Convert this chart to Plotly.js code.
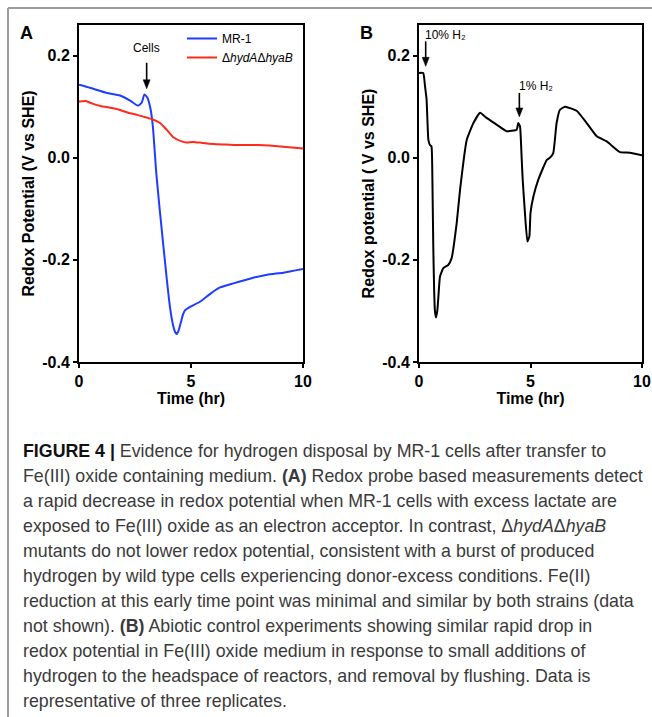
<!DOCTYPE html>
<html><head><meta charset="utf-8">
<script src="https://cdn.plot.ly/plotly-3.0.1.min.js"></script>
<style>html,body{margin:0;padding:0;background:#fff;} #chart{width:652px;height:717px;}</style>
</head><body><div id="chart"></div>
<script>
// ---- Panel A: MR-1 (blue) ----
const timeMR1 = [0, 0.49, 1.24, 1.83, 2.28, 2.63, 2.8, 2.92, 3.05, 3.2, 3.3, 3.45, 3.6, 3.77, 3.9, 4.06, 4.2, 4.3, 4.37, 4.45, 4.55, 4.65, 4.75, 5.0, 5.4, 5.9, 6.3, 6.89, 7.78, 8.4, 9.12, 10];
const potMR1 = [0.143, 0.137, 0.127, 0.122, 0.112, 0.102, 0.108, 0.124, 0.118, 0.094, 0.06, -0.03, -0.1, -0.174, -0.23, -0.292, -0.328, -0.342, -0.345, -0.338, -0.322, -0.306, -0.298, -0.291, -0.282, -0.265, -0.254, -0.246, -0.235, -0.229, -0.225, -0.218];
// ---- Panel A: ΔhydAΔhyaB (red) ----
const timeMutant = [0, 0.3, 0.6, 1.0, 1.4, 1.8, 2.2, 2.6, 3.0, 3.3, 3.62, 3.91, 4.21, 4.58, 4.8, 5.1, 5.5, 6.0, 6.5, 7.0, 7.5, 8.0, 8.5, 9.0, 9.5, 10];
const potMutant = [0.110, 0.111, 0.106, 0.101, 0.098, 0.094, 0.088, 0.084, 0.079, 0.075, 0.068, 0.055, 0.040, 0.032, 0.030, 0.031, 0.029, 0.027, 0.026, 0.025, 0.025, 0.025, 0.024, 0.022, 0.020, 0.018];
// ---- Panel B: abiotic control (black) ----
const timeAbiotic = [0, 0.19, 0.27, 0.34, 0.42, 0.49, 0.56, 0.6, 0.64, 0.68, 0.71, 0.76, 0.82, 0.87, 0.94, 1.09, 1.31, 1.46, 1.69, 1.84, 2.14, 2.44, 2.74, 3.03, 3.48, 3.93, 4.38, 4.45, 4.53, 4.6, 4.65, 4.75, 4.86, 4.95, 5.0, 5.13, 5.35, 5.73, 5.87, 6.02, 6.17, 6.32, 6.55, 7.07, 7.52, 7.97, 8.42, 9.01, 9.46, 10];
const potAbiotic = [0.166, 0.166, 0.14, 0.114, 0.035, 0.025, 0.022, -0.04, -0.174, -0.26, -0.298, -0.313, -0.300, -0.272, -0.233, -0.216, -0.21, -0.197, -0.128, -0.063, 0.035, 0.068, 0.088, 0.078, 0.065, 0.052, 0.055, 0.068, 0.061, 0.003, -0.043, -0.108, -0.164, -0.154, -0.108, -0.076, -0.043, -0.004, 0.0, 0.009, 0.068, 0.094, 0.10, 0.092, 0.068, 0.042, 0.032, 0.011, 0.010, 0.005];

const xTickVals = [0, 5, 10];
const yTickVals = [-0.4, -0.2, 0.0, 0.2];
const yTickText = ['-0.4', '-0.2', '0.0', '0.2'];
const seriesNames = ['MR-1', 'Δ<i>hydA</i>Δ<i>hyaB</i>', 'Abiotic'];
// event markers: [label, time (hr), arrow tail, arrow tip]
const eventsA = [['Cells', 3.02, 0.186, 0.135]];
const eventsB = [['10% H₂', 0.30, 0.228, 0.179], ['1% H₂', 4.50, 0.127, 0.080]];
const captionLines = [
  '<b><span style="color:#111">FIGURE 4 |</span></b> Evidence for hydrogen disposal by MR-1 cells after transfer to',
  'Fe(III) oxide containing medium. <b>(A)</b> Redox probe based measurements detect',
  'a rapid decrease in redox potential when MR-1 cells with excess lactate are',
  'exposed to Fe(III) oxide as an electron acceptor. In contrast, Δ<i>hydA</i>Δ<i>hyaB</i>',
  'mutants do not lower redox potential, consistent with a burst of produced',
  'hydrogen by wild type cells experiencing donor-excess conditions. Fe(II)',
  'reduction at this early time point was minimal and similar by both strains (data',
  'not shown). <b>(B)</b> Abiotic control experiments showing similar rapid drop in',
  'redox potential in Fe(III) oxide medium in response to small additions of',
  'hydrogen to the headspace of reactors, and removal by flushing. Data is',
  'representative of three replicates.'
];

const W = 652, H = 717;
const px = v => v / W;
const py = v => 1 - v / H;
const FONT = 'Arial, Liberation Sans, sans-serif';
const PX_PER_HR = 22.4, PX_PER_V = 510;

const traces = [
  {x: timeMR1, y: potMR1, name: seriesNames[0], type: 'scatter', mode: 'lines',
   line: {color: '#1f3dff', width: 2, shape: 'spline', smoothing: 0.5}, xaxis: 'x', yaxis: 'y'},
  {x: timeMutant, y: potMutant, name: seriesNames[1], type: 'scatter', mode: 'lines',
   line: {color: '#ff2a1a', width: 2, shape: 'spline', smoothing: 0.5}, xaxis: 'x', yaxis: 'y'},
  {x: timeAbiotic, y: potAbiotic, name: seriesNames[2], type: 'scatter', mode: 'lines', showlegend: false,
   line: {color: '#000', width: 2, shape: 'spline', smoothing: 0.4}, xaxis: 'x2', yaxis: 'y2'}
];

function xAx(dom, anchor) {
  return {domain: dom, anchor: anchor, range: [0, 10], tickvals: xTickVals, ticks: 'outside', ticklen: 4, tickwidth: 2,
    tickcolor: '#000', showline: true, linewidth: 2, linecolor: '#000', mirror: true, showgrid: false, zeroline: false,
    tickfont: {family: FONT, size: 16, color: '#000', weight: 'bold'},
    title: {text: 'Time (hr)', font: {family: FONT, size: 16, color: '#000', weight: 'bold'}, standoff: 0}};
}
function yAx(dom, anchor, title) {
  return {domain: dom, anchor: anchor, range: [-0.4, 0.26], tickvals: yTickVals, ticktext: yTickText, ticks: 'outside',
    ticklen: 4, tickwidth: 2, tickcolor: '#000', showline: true, linewidth: 2, linecolor: '#000', mirror: true,
    showgrid: false, zeroline: false, tickfont: {family: FONT, size: 16, color: '#000', weight: 'bold'},
    title: {text: title, font: {family: FONT, size: 16, color: '#000', weight: 'bold'}, standoff: 4}};
}

const yDom = [py(362), py(25)];
const annotations = [
  {xref: 'paper', yref: 'paper', x: px(27), y: py(33), xanchor: 'center', yanchor: 'middle', text: '<b>A</b>', showarrow: false, font: {family: FONT, size: 18, color: '#000'}},
  {xref: 'paper', yref: 'paper', x: px(366), y: py(33), xanchor: 'center', yanchor: 'middle', text: '<b>B</b>', showarrow: false, font: {family: FONT, size: 18, color: '#000'}},
  {xref: 'x', yref: 'y', x: eventsA[0][1], y: 0.214, xanchor: 'center', yanchor: 'middle', text: eventsA[0][0], showarrow: false, font: {family: FONT, size: 12, color: '#000'}},
  {xref: 'x2', yref: 'y2', x: 0.16, y: 0.241, xanchor: 'left', yanchor: 'middle', text: eventsB[0][0], showarrow: false, font: {family: FONT, size: 12, color: '#000'}},
  {xref: 'x2', yref: 'y2', x: 4.38, y: 0.140, xanchor: 'left', yanchor: 'middle', text: eventsB[1][0], showarrow: false, font: {family: FONT, size: 12, color: '#000'}}
];
captionLines.forEach((t, i) => {
  annotations.push({xref: 'paper', yref: 'paper', x: px(21), y: py(451 + 25 * i), xanchor: 'left', yanchor: 'middle',
    align: 'left', text: t, showarrow: false, font: {family: FONT, size: 17.8, color: '#3a3a3a'}});
});

// arrows as a stem line + filled head, in data coordinates of each panel
function arrowShapes(xr, yr, ev) {
  const headLen = 9 / PX_PER_V, halfW = 3.5 / PX_PER_HR;
  const x = ev[1], tail = ev[2], tip = ev[3];
  return [
    {type: 'line', xref: xr, yref: yr, x0: x, x1: x, y0: tail, y1: tip + headLen * 0.6, line: {color: '#000', width: 1.6}},
    {type: 'path', xref: xr, yref: yr, path: `M ${x - halfW} ${tip + headLen} L ${x + halfW} ${tip + headLen} L ${x} ${tip} Z`,
     fillcolor: '#000', line: {color: '#000', width: 0.5}}
  ];
}
let shapes = [
  {type: 'line', xref: 'paper', yref: 'paper', x0: px(8), x1: px(652), y0: py(8), y1: py(8), line: {color: '#9c9c9c', width: 2}},
  {type: 'line', xref: 'paper', yref: 'paper', x0: px(8), x1: px(8), y0: py(8), y1: py(717), line: {color: '#9c9c9c', width: 2}}
];
eventsA.forEach(ev => { shapes = shapes.concat(arrowShapes('x', 'y', ev)); });
eventsB.forEach(ev => { shapes = shapes.concat(arrowShapes('x2', 'y2', ev)); });

const layout = {
  width: W, height: H, margin: {l: 0, r: 0, t: 0, b: 0, pad: 0},
  paper_bgcolor: '#fff', plot_bgcolor: '#fff',
  xaxis: xAx([px(79), px(303)], 'y'),
  yaxis: yAx(yDom, 'x', 'Redox Potential (V vs SHE)'),
  xaxis2: xAx([px(419), px(642)], 'y2'),
  yaxis2: yAx(yDom, 'x2', 'Redox potential ( V vs SHE)'),
  showlegend: true,
  legend: {x: px(182), y: py(24), xanchor: 'left', yanchor: 'top', bgcolor: 'rgba(0,0,0,0)',
    font: {family: FONT, size: 12, color: '#000'}, itemwidth: 30},
  annotations: annotations,
  shapes: shapes
};
Plotly.newPlot('chart', traces, layout, {displayModeBar: false, staticPlot: true});
</script>
</body></html>
